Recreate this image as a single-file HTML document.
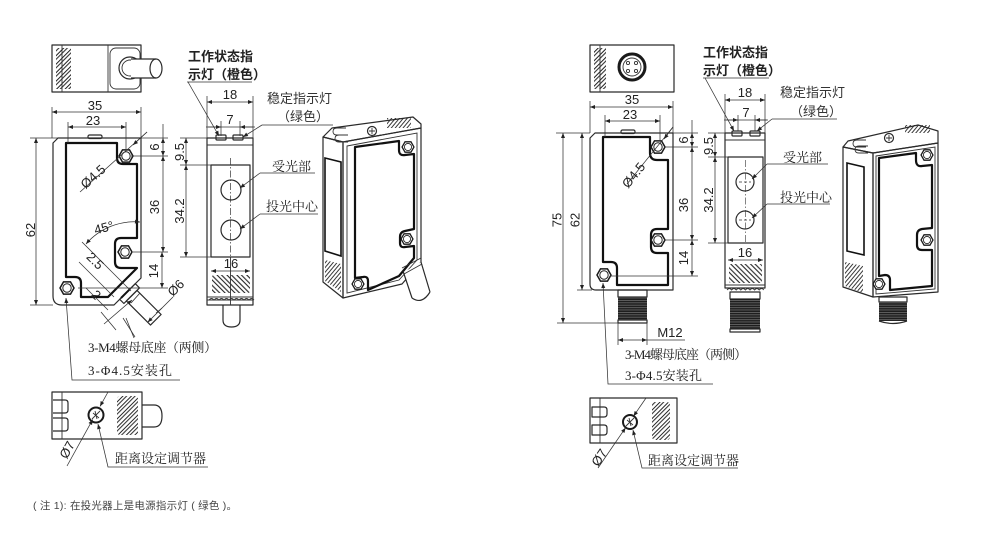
<!DOCTYPE html>
<html><head><meta charset="utf-8"><style>
html,body{margin:0;padding:0;background:#fff;}
svg{display:block}
.o{stroke:#2a2a2a;stroke-width:1.2;fill:none;stroke-linejoin:round}
.l{stroke:#333;stroke-width:0.9;fill:none}
.d{stroke:#333;stroke-width:0.75;fill:none}
.k{stroke:#111;stroke-width:2.2;fill:none;stroke-linejoin:round}
.n{font-family:"Liberation Sans",Arial,sans-serif;font-size:13px;fill:#222}
.cb{font-family:"Liberation Sans","Noto Sans CJK SC",sans-serif;font-size:13px;fill:#222;font-weight:bold}
.cs{font-family:"Liberation Sans","Noto Sans CJK SC",sans-serif;font-size:13px;fill:#333}
.sf{font-family:"Liberation Serif","Noto Serif CJK SC",serif;font-size:13px;fill:#222}
.nt{font-family:"Liberation Sans","Noto Sans CJK SC",sans-serif;font-size:10.5px;fill:#444}
</style></head><body>
<svg width="999" height="533" viewBox="0 0 999 533" xmlns="http://www.w3.org/2000/svg">
<defs>
<marker id="a" viewBox="0 0 10 10" refX="10" refY="5" markerWidth="7" markerHeight="5" orient="auto-start-reverse" markerUnits="userSpaceOnUse"><path d="M0,1 L10,5 L0,9z" fill="#222"/></marker>
<pattern id="h45" width="6" height="6" patternUnits="userSpaceOnUse" patternTransform="rotate(45)"><line x1="1" y1="0" x2="1" y2="6" stroke="#222" stroke-width="1"/><line x1="3.6" y1="0" x2="3.6" y2="6" stroke="#222" stroke-width="1"/></pattern>
<pattern id="hm45" width="7" height="7" patternUnits="userSpaceOnUse" patternTransform="rotate(-45)"><line x1="1" y1="0" x2="1" y2="7" stroke="#222" stroke-width="1.1"/><line x1="4.2" y1="0" x2="4.2" y2="7" stroke="#222" stroke-width="1.1"/></pattern>
<pattern id="hd" width="3" height="3" patternUnits="userSpaceOnUse" patternTransform="rotate(40)"><line x1="1" y1="0" x2="1" y2="3" stroke="#222" stroke-width="0.9"/></pattern>
<pattern id="th" width="4" height="2.4" patternUnits="userSpaceOnUse"><rect width="4" height="2.4" fill="#1e1e1e"/><line x1="0" y1="0.4" x2="4" y2="0.4" stroke="#9a9a9a" stroke-width="0.5"/></pattern>
<g id="hx"><polygon points="7,0 3.5,6.1 -3.5,6.1 -7,0 -3.5,-6.1 3.5,-6.1" fill="#fff" stroke="#1a1a1a" stroke-width="1.5"/><circle r="4.2" fill="none" stroke="#222" stroke-width="1"/></g>
</defs>

<!-- ================= LEFT SET ================= -->
<!-- top view -->
<rect x="52" y="45" width="89" height="47" class="o"/>
<rect x="56" y="48" width="15" height="41" fill="url(#h45)"/>
<line x1="62" y1="45" x2="62" y2="92" class="l"/>
<line x1="108" y1="45" x2="108" y2="92" class="l"/>
<rect x="110" y="48" width="30" height="41" rx="6" class="l"/>
<circle cx="130" cy="68" r="11" class="o"/>
<circle cx="130" cy="68" r="8" class="l"/>
<rect x="131" y="59" width="25" height="19" fill="#fff"/>
<path d="M131,59 H156 M131,78 H156" class="o"/>
<ellipse cx="156" cy="68.5" rx="6" ry="9.5" fill="#fff" class="o"/>

<!-- front view -->
<path d="M58,138 H141 V278 L114,305 H62 Q53,305 53,296 V143 Z" class="o" fill="#fff"/>
<rect x="88" y="135" width="14" height="3.5" rx="1.5" class="o" fill="#fff"/>
<path class="k" d="M66,143 H117 V158 Q117,164 123,164 H137 V238 H121 Q115,238 115,244 V262 Q115,268 121,268 H137 L108,297 H81 V283 Q81,277 75,277 H66 Z"/>
<use href="#hx" transform="translate(126,156)"/>
<use href="#hx" transform="translate(125,252)"/>
<use href="#hx" transform="translate(67,288)"/>
<!-- cable -->
<polygon points="135.3,283.7 139.5,287.9 123.9,303.5 119.7,299.3" fill="#fff" class="o"/>
<polygon points="137,290.4 161.1,314.5 150.5,325.1 126.4,301" fill="#fff" class="o"/>
<line x1="130" y1="289" x2="121" y2="298" stroke="#111" stroke-width="2"/>
<line x1="140" y1="293" x2="131" y2="303" class="l"/>
<!-- small dims on cable -->
<line x1="82" y1="242" x2="131" y2="291" class="d"/>
<line x1="79" y1="262" x2="114" y2="297" class="d"/>
<line x1="86" y1="288" x2="108" y2="310" class="d"/>
<line x1="101" y1="312" x2="116" y2="330" class="d"/>
<line x1="123" y1="318" x2="135" y2="337" class="d"/>
<line x1="104" y1="324" x2="132" y2="300" class="d" marker-end="url(#a)"/>
<text class="n" transform="translate(92,264) rotate(45)" text-anchor="middle">2.5</text>
<text class="n" transform="translate(93,298) rotate(45)" text-anchor="middle">2</text>
<path d="M86,244 A64,64 0 0 1 140,222" class="d" marker-start="url(#a)" marker-end="url(#a)"/>
<text class="n" transform="translate(105,232) rotate(-15)" text-anchor="middle">45°</text>
<line x1="147.7" y1="322.3" x2="173" y2="297" class="d" marker-start="url(#a)"/>
<line x1="162" y1="308" x2="156" y2="313" class="d"/>
<text class="n" transform="translate(179,291) rotate(-45)" text-anchor="middle">Ø6</text>
<line x1="147" y1="132" x2="80" y2="192" class="d"/>
<line x1="147" y1="132" x2="133" y2="145" class="d" marker-end="url(#a)"/>
<text class="n" transform="translate(96,180) rotate(-42)" text-anchor="middle">Ø4.5</text>
<line x1="134" y1="338" x2="126" y2="318" class="d"/>

<!-- front dims -->
<path d="M52,107 V138 M141,107 V138 M68,122 V143 M126,122 V149" class="d"/>
<line x1="52" y1="112" x2="141" y2="112" class="d" marker-start="url(#a)" marker-end="url(#a)"/>
<text class="n" x="95" y="110" text-anchor="middle">35</text>
<line x1="68" y1="127" x2="126" y2="127" class="d" marker-start="url(#a)" marker-end="url(#a)"/>
<text class="n" x="93" y="125" text-anchor="middle">23</text>
<path d="M30,138 H168 M30,305 H53 M131,156 H168 M133,252 H168 M78,288 H168" class="d"/>
<line x1="36" y1="138" x2="36" y2="305" class="d" marker-start="url(#a)" marker-end="url(#a)"/>
<text class="n" transform="translate(35,230) rotate(-90)" text-anchor="middle">62</text>
<line x1="163" y1="138" x2="163" y2="156" class="d" marker-start="url(#a)" marker-end="url(#a)"/>
<line x1="163" y1="124" x2="163" y2="138" class="d"/>
<text class="n" transform="translate(159,147) rotate(-90)" text-anchor="middle">6</text>
<line x1="163" y1="156" x2="163" y2="252" class="d" marker-start="url(#a)" marker-end="url(#a)"/>
<text class="n" transform="translate(159,207) rotate(-90)" text-anchor="middle">36</text>
<line x1="162" y1="252" x2="162" y2="288" class="d" marker-start="url(#a)" marker-end="url(#a)"/>
<text class="n" transform="translate(158,271) rotate(-90)" text-anchor="middle">14</text>

<!-- side view -->
<rect x="207" y="138" width="46" height="167" class="o" fill="#fff"/>
<line x1="207" y1="145" x2="253" y2="145" class="l"/>
<rect x="211" y="165" width="39" height="92" class="o"/>
<rect x="212" y="275" width="38" height="18" rx="2" fill="url(#hm45)"/>
<line x1="207" y1="297" x2="253" y2="297" class="l"/>
<path d="M209,300 q2.5,-3 5,0 q2.5,-3 5,0 q2.5,-3 5,0 q2.5,-3 5,0 q2.5,-3 5,0 q2.5,-3 5,0 q2.5,-3 5,0 q2.5,-3 5,0 q2.5,-3 5,0" class="l"/>
<line x1="207" y1="300" x2="253" y2="300" class="l"/>
<line x1="230.5" y1="158" x2="230.5" y2="257" stroke="#333" stroke-width="0.7" stroke-dasharray="7,2,1.5,2"/>
<line x1="230.5" y1="257" x2="230.5" y2="305" class="l"/>
<path d="M223,305 V320 Q223,327 231.5,327 Q240,327 240,320 V305" class="o" fill="#fff"/>
<rect x="216" y="135" width="10" height="5" rx="1" class="o" fill="#fff"/>
<rect x="233" y="135" width="10" height="5" rx="1" class="o" fill="#fff"/>
<circle cx="231" cy="190" r="10" class="o"/>
<circle cx="231" cy="230" r="10" class="o"/>
<!-- side dims -->
<path d="M207,96 V138 M253,96 V138 M221,121 V136 M240,121 V136" class="d"/>
<line x1="207" y1="102" x2="253" y2="102" class="d" marker-start="url(#a)" marker-end="url(#a)"/>
<text class="n" x="230" y="99" text-anchor="middle">18</text>
<line x1="206" y1="127" x2="255" y2="127" class="d"/>
<line x1="208" y1="127" x2="221" y2="127" class="d" marker-end="url(#a)"/>
<line x1="253" y1="127" x2="240" y2="127" class="d" marker-end="url(#a)"/>
<text class="n" x="230" y="124" text-anchor="middle">7</text>
<path d="M180,138 H207 M180,165 H211 M180,257 H211" class="d"/>
<line x1="186" y1="138" x2="186" y2="165" class="d" marker-start="url(#a)" marker-end="url(#a)"/>
<text class="n" transform="translate(184,152) rotate(-90)" text-anchor="middle">9.5</text>
<line x1="186" y1="165" x2="186" y2="257" class="d" marker-start="url(#a)" marker-end="url(#a)"/>
<text class="n" transform="translate(184,211) rotate(-90)" text-anchor="middle">34.2</text>
<line x1="211" y1="271" x2="250" y2="271" class="d" marker-start="url(#a)" marker-end="url(#a)"/>
<text class="n" x="231" y="268" text-anchor="middle">16</text>
<!-- side labels -->
<text class="cb" x="188" y="61">工作状态指</text>
<text class="cb" x="188" y="79">示灯（橙色）</text>
<line x1="187" y1="82" x2="252" y2="82" class="d"/>
<line x1="188" y1="82" x2="219" y2="136" class="d" marker-end="url(#a)"/>
<text class="cs" x="267" y="103">稳定指示灯</text>
<text class="cs" x="277" y="121">（绿色）</text>
<line x1="262" y1="125" x2="333" y2="125" class="d"/>
<line x1="262" y1="125" x2="243" y2="137" class="d" marker-end="url(#a)"/>
<text class="sf" x="272" y="171">受光部</text>
<line x1="260" y1="173" x2="315" y2="173" class="d"/>
<line x1="260" y1="173" x2="240" y2="188" class="d" marker-end="url(#a)"/>
<text class="sf" x="266" y="211">投光中心</text>
<line x1="260" y1="214" x2="318" y2="214" class="d"/>
<line x1="260" y1="214" x2="240" y2="229" class="d" marker-end="url(#a)"/>

<!-- perspective left -->
<polygon points="323,137 343,142 343,298 323,282" class="o" fill="#fff"/>
<polygon points="323,137 343,142 421,128 421,124 413,117 332,128" class="o" fill="#fff"/>
<polygon points="343,142 421,128 421,262 402,284 343,298" class="o" fill="#fff"/>
<polygon points="347,146 417,133 417,260 399,280 347,293" class="l"/>
<polygon points="325,158 341,162 341,256 325,251" fill="none" stroke="#111" stroke-width="1.6"/>
<polygon points="325,260 341,264 341,292 325,281" fill="url(#hd)"/>
<path class="k" d="M355,147 L399,141 V150 Q399,156 405,155 L414,154 V229 L405,231 Q400,232 400,237 V243 Q400,248 405,247 L414,246 V258 L399,276 L368,290 V281 Q368,276 363,277 L355,278 Z"/>
<use href="#hx" transform="translate(408,147) scale(0.85)"/>
<use href="#hx" transform="translate(407,239) scale(0.85)"/>
<use href="#hx" transform="translate(358,284) scale(0.85)"/>
<path d="M346,128 H337 Q333,128 333,131.5 Q333,135 337,135 H346 M348,135 H339 Q335,135 335,138.5 Q335,142 339,142 H348" class="l"/>
<circle cx="372" cy="131" r="4.5" class="o"/>
<path d="M369,131 H375 M372,128 V134" class="l"/>
<rect x="387" y="118" width="24" height="10" fill="url(#hd)"/>
<polygon points="404,272 421,262 430,292 412,299" fill="#fff" stroke="none"/>
<path d="M403,271 L412,298 M421,262 L430,292 M412,298 Q422,305 430,292" class="o"/>
<path d="M402,268 L421,258 M404,274 L422,264" class="l"/>

<!-- bottom view left -->
<rect x="52" y="392" width="90" height="47" class="o"/>
<line x1="62" y1="392" x2="62" y2="439" class="l"/>
<path d="M53,400 H65 Q68,400 68,403 V410 Q68,413 65,413 H53 M53,418 H65 Q68,418 68,421 V428 Q68,431 65,431 H53" class="o" fill="#fff"/>
<circle cx="96" cy="415" r="7.5" fill="#fff" stroke="#1a1a1a" stroke-width="2"/>
<path d="M92,419 L100,411 M93,413 L99,418 M95,411 L97,419" class="l"/>
<rect x="117" y="396" width="21" height="39" rx="3" fill="url(#h45)"/>
<path d="M142,405 H154 Q162,405 162,416 Q162,427 154,427 H142" class="o" fill="#fff"/>
<line x1="108" y1="392" x2="100" y2="406.4" class="d" marker-end="url(#a)"/>
<line x1="67" y1="466" x2="92.7" y2="419.6" class="d" marker-end="url(#a)"/>
<text class="n" transform="translate(71,452) rotate(-61)" text-anchor="middle">Ø7</text>
<path d="M208,467 H108 L98,424" class="d" marker-end="url(#a)"/>
<text class="sf" x="115" y="463">距离设定调节器</text>

<!-- left labels -->
<text class="sf" x="88" y="352" textLength="129">3-M4螺母底座（两侧）</text>
<text class="sf" x="88" y="375" textLength="84">3-Φ4.5安装孔</text>
<path d="M180,380 H72 L66,298" class="d" marker-end="url(#a)"/>

<!-- ================= RIGHT SET ================= -->
<!-- top view -->
<rect x="590" y="45" width="84" height="47" class="o"/>
<rect x="594" y="48" width="12" height="41" fill="url(#h45)"/>
<line x1="600" y1="45" x2="600" y2="92" class="l"/>
<circle cx="632" cy="67" r="13" fill="#fff" stroke="#1a1a1a" stroke-width="3"/>
<circle cx="632" cy="67" r="9" class="l"/>
<circle cx="628" cy="63" r="1.6" class="l"/><circle cx="636" cy="63" r="1.6" class="l"/>
<circle cx="628" cy="71" r="1.6" class="l"/><circle cx="636" cy="71" r="1.6" class="l"/>

<!-- front view -->
<path d="M595,133 H673 V290 H596 Q590,290 590,284 V138 Z" class="o" fill="#fff"/>
<rect x="621" y="130" width="14" height="3.5" rx="1.5" class="o" fill="#fff"/>
<path class="k" d="M603,137 H650 V153 Q650,160 657,160 H668 V229 H657 Q651,229 651,235 V247 Q651,253 657,253 H668 V285 H617 V268 Q617,262 611,262 H603 Z"/>
<use href="#hx" transform="translate(658,147)"/>
<use href="#hx" transform="translate(658,240)"/>
<use href="#hx" transform="translate(604,275)"/>
<rect x="618" y="290" width="29" height="7" class="o" fill="#fff"/>
<rect x="618" y="297" width="29" height="23" fill="url(#th)"/>
<rect x="618" y="320" width="29" height="3" class="o" fill="#fff"/>
<line x1="673" y1="127" x2="627" y2="184" class="d"/>
<line x1="673" y1="127" x2="664" y2="139" class="d" marker-end="url(#a)"/>
<text class="n" transform="translate(637,178) rotate(-51)" text-anchor="middle">Ø4.5</text>
<!-- front dims -->
<path d="M590,101 V133 M673,101 V133 M605,115 V137 M660,115 V140" class="d"/>
<line x1="590" y1="107" x2="673" y2="107" class="d" marker-start="url(#a)" marker-end="url(#a)"/>
<text class="n" x="632" y="104" text-anchor="middle">35</text>
<line x1="605" y1="121" x2="660" y2="121" class="d" marker-start="url(#a)" marker-end="url(#a)"/>
<text class="n" x="630" y="119" text-anchor="middle">23</text>
<path d="M556,133 H590 M673,133 H698 M664,147 H698 M664,240 H698 M610,276 H698 M577,290 H592 M557,323 H618" class="d"/>
<line x1="563" y1="133" x2="563" y2="323" class="d" marker-start="url(#a)" marker-end="url(#a)"/>
<text class="n" transform="translate(561.5,220) rotate(-90)" text-anchor="middle">75</text>
<line x1="582" y1="133" x2="582" y2="290" class="d" marker-start="url(#a)" marker-end="url(#a)"/>
<text class="n" transform="translate(579.5,220) rotate(-90)" text-anchor="middle">62</text>
<line x1="692" y1="133" x2="692" y2="147" class="d" marker-start="url(#a)" marker-end="url(#a)"/>
<line x1="692" y1="120" x2="692" y2="133" class="d"/>
<text class="n" transform="translate(688,140) rotate(-90)" text-anchor="middle">6</text>
<line x1="692" y1="147" x2="692" y2="240" class="d" marker-start="url(#a)" marker-end="url(#a)"/>
<text class="n" transform="translate(688,205) rotate(-90)" text-anchor="middle">36</text>
<line x1="692" y1="240" x2="692" y2="276" class="d" marker-start="url(#a)" marker-end="url(#a)"/>
<text class="n" transform="translate(688,258) rotate(-90)" text-anchor="middle">14</text>
<path d="M618,323 V345 M647,323 V345" class="d"/>
<line x1="618" y1="340" x2="647" y2="340" class="d" marker-start="url(#a)" marker-end="url(#a)"/>
<line x1="647" y1="340" x2="685" y2="340" class="d"/>
<text class="n" x="670" y="337" text-anchor="middle">M12</text>

<!-- side view right -->
<rect x="725" y="133" width="40" height="155" class="o" fill="#fff"/>
<line x1="725" y1="140" x2="765" y2="140" class="l"/>
<rect x="728" y="157" width="35" height="86" class="o"/>
<circle cx="745" cy="182" r="9" class="o"/>
<circle cx="745" cy="220" r="9" class="o"/>
<path d="M739,182 H751 M739,220 H751" stroke="#333" stroke-width="0.7" stroke-dasharray="3,2"/>
<line x1="745.5" y1="160" x2="745.5" y2="243" stroke="#333" stroke-width="0.6" stroke-dasharray="7,2,1.5,2"/>
<rect x="729" y="264" width="33" height="19" rx="2" fill="url(#hm45)"/>
<line x1="725" y1="285" x2="765" y2="285" class="l"/>
<path d="M727,290 q2.3,-3 4.6,0 q2.3,-3 4.6,0 q2.3,-3 4.6,0 q2.3,-3 4.6,0 q2.3,-3 4.6,0 q2.3,-3 4.6,0 q2.3,-3 4.6,0 q2.3,-3 4.6,0" class="l"/>
<rect x="730" y="292" width="30" height="7" class="o" fill="#fff"/>
<rect x="730" y="299" width="30" height="30" fill="url(#th)"/>
<rect x="730" y="329" width="30" height="3" class="o" fill="#fff"/>
<rect x="732" y="131" width="10" height="5" rx="1" class="o" fill="#fff"/>
<rect x="750" y="131" width="10" height="5" rx="1" class="o" fill="#fff"/>
<path d="M725,94 V133 M765,94 V133 M738,115 V131 M755,115 V131" class="d"/>
<line x1="725" y1="100" x2="765" y2="100" class="d" marker-start="url(#a)" marker-end="url(#a)"/>
<text class="n" x="745" y="97" text-anchor="middle">18</text>
<line x1="724" y1="120" x2="768" y2="120" class="d"/>
<line x1="726" y1="120" x2="738" y2="120" class="d" marker-end="url(#a)"/>
<line x1="767" y1="120" x2="755" y2="120" class="d" marker-end="url(#a)"/>
<text class="n" x="746" y="117" text-anchor="middle">7</text>
<path d="M708,133 H725 M708,157 H728 M708,243 H728" class="d"/>
<line x1="715" y1="133" x2="715" y2="157" class="d" marker-start="url(#a)" marker-end="url(#a)"/>
<text class="n" transform="translate(713,146) rotate(-90)" text-anchor="middle">9.5</text>
<line x1="715" y1="157" x2="715" y2="243" class="d" marker-start="url(#a)" marker-end="url(#a)"/>
<text class="n" transform="translate(713,200) rotate(-90)" text-anchor="middle">34.2</text>
<line x1="728" y1="260" x2="763" y2="260" class="d" marker-start="url(#a)" marker-end="url(#a)"/>
<text class="n" x="745" y="257" text-anchor="middle">16</text>
<!-- right side labels -->
<text class="cb" x="703" y="57">工作状态指</text>
<text class="cb" x="703" y="75">示灯（橙色）</text>
<line x1="703" y1="78" x2="769" y2="78" class="d"/>
<line x1="705" y1="78" x2="734" y2="131" class="d" marker-end="url(#a)"/>
<text class="cs" x="780" y="97">稳定指示灯</text>
<text class="cs" x="790" y="116">（绿色）</text>
<line x1="772" y1="119" x2="837" y2="119" class="d"/>
<line x1="772" y1="119" x2="757" y2="131" class="d" marker-end="url(#a)"/>
<text class="sf" x="783" y="162">受光部</text>
<line x1="767" y1="164" x2="828" y2="164" class="d"/>
<line x1="767" y1="164" x2="752" y2="179" class="d" marker-end="url(#a)"/>
<text class="sf" x="780" y="202">投光中心</text>
<line x1="767" y1="204" x2="830" y2="204" class="d"/>
<line x1="767" y1="204" x2="752" y2="218" class="d" marker-end="url(#a)"/>

<!-- perspective right -->
<polygon points="843,147 873,153 873,297 843,287" class="o" fill="#fff"/>
<polygon points="843,147 873,153 938,143 938,131 918,125 848,141" class="o" fill="#fff"/>
<polygon points="873,153 938,143 938,292 873,297" class="o" fill="#fff"/>
<polygon points="876,156 935,147 935,289 876,294" class="l"/>
<polygon points="847,163 864,167 864,255 847,251" fill="none" stroke="#111" stroke-width="1.6"/>
<polygon points="845,262 863,266 863,293 845,286" fill="url(#hd)"/>
<path class="k" d="M879,158 L916,153 V160 Q916,167 922,166 L932,165 V228 L922,229 Q917,230 917,235 V245 Q917,250 922,250 L932,250 V286 L890,290 V280 Q890,275 885,275 L879,276 Z"/>
<use href="#hx" transform="translate(927,155) scale(0.85)"/>
<use href="#hx" transform="translate(927,240) scale(0.85)"/>
<use href="#hx" transform="translate(879,284) scale(0.85)"/>
<path d="M866,140 H857 Q853,140 853,143.5 Q853,147 857,147 H866 M868,146 H859 Q855,146 855,149.5 Q855,153 859,153 H868" class="l"/>
<circle cx="889" cy="138" r="4.5" class="o"/>
<path d="M886,138 H892 M889,135 V141" class="l"/>
<rect x="905" y="125" width="25" height="8" fill="url(#hd)"/>
<rect x="879" y="297" width="28" height="5" class="o" fill="#fff"/>
<rect x="879" y="302" width="28" height="19" fill="url(#th)"/>
<path d="M879,321 Q893,326 907,321" class="o"/>

<!-- bottom view right -->
<rect x="590" y="398" width="87" height="45" class="o"/>
<line x1="600" y1="398" x2="600" y2="443" class="l"/>
<path d="M592,407 H604 Q607,407 607,410 V414 Q607,417 604,417 H592 Z M592,425 H604 Q607,425 607,428 V432 Q607,435 604,435 H592 Z" class="o" fill="#fff"/>
<circle cx="630" cy="422" r="7" fill="#fff" stroke="#1a1a1a" stroke-width="2"/>
<path d="M626,426 L634,418 M627,420 L633,425 M629,418 L631,426" class="l"/>
<rect x="652" y="402" width="18" height="38" rx="3" fill="url(#h45)"/>
<line x1="646" y1="398" x2="633.5" y2="416.2" class="d" marker-end="url(#a)"/>
<line x1="598" y1="468" x2="625.6" y2="427.7" class="d" marker-end="url(#a)"/>
<text class="n" transform="translate(603,460) rotate(-56)" text-anchor="middle">Ø7</text>
<path d="M738,468 H642 L633,430" class="d" marker-end="url(#a)"/>
<text class="sf" x="648" y="465">距离设定调节器</text>

<!-- right labels -->
<text class="sf" x="625" y="359" textLength="122">3-M4螺母底座（两侧）</text>
<text class="sf" x="625" y="380" textLength="77">3-Φ4.5安装孔</text>
<path d="M713,384 H608 L603,283" class="d" marker-end="url(#a)"/>

<!-- note -->
<text class="nt" x="33" y="509" textLength="204">( 注 1): 在投光器上是电源指示灯 ( 绿色 )。</text>
</svg>
</body></html>
